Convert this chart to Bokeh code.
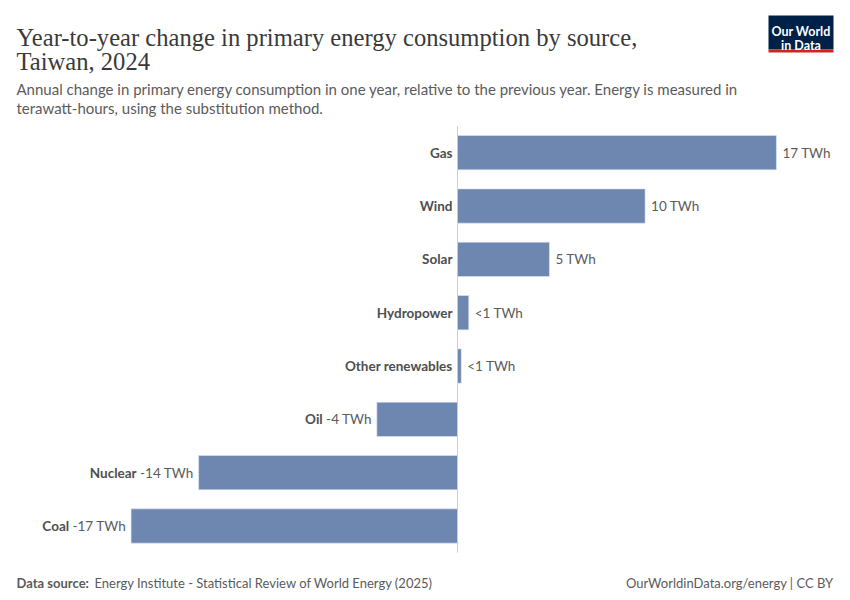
from bokeh.plotting import figure
from bokeh.models import Range1d, Label
from bokeh.embed import file_html
from bokeh.resources import INLINE

# ---- data ----
sources = ["Gas", "Wind", "Solar", "Hydropower", "Other renewables", "Oil", "Nuclear", "Coal"]
change_twh = [17.0, 10.0, 4.9, 0.6, 0.2, -4.3, -13.8, -17.4]
unit = "TWh"

title_lines = ["Year-to-year change in primary energy consumption by source,", "Taiwan, 2024"]
subtitle_lines = ["Annual change in primary energy consumption in one year, relative to the previous year. Energy is measured in",
                  "terawatt-hours, using the substitution method."]
source_label = "Data source:"
source_text = "Energy Institute - Statistical Review of World Energy (2025)"
footer_right = "OurWorldinData.org/energy | CC BY"

# ---- layout constants (pixels) ----
W, H = 842, 592
ZERO_PX = 457.0
PX_PER_TWH = 18.76
ROW0_PX = 152.2
ROW_PX = 53.33
BAR_FRAC = 0.643

BAR_COLOR = "#6D87B0"
LABEL_SIZE = 13.5


def xd(px):
    return (px - ZERO_PX) / PX_PER_TWH


def yd(py):
    return (py - ROW0_PX) / ROW_PX


# approximate Lato glyph widths in em
_W = {" ": 0.193, "T": 0.571, "W": 0.962, "h": 0.563, "-": 0.40, "<": 0.58}


def text_w(s, size):
    return sum(_W.get(c, 0.58) for c in s) * size


def fmt(v):
    if abs(v) < 1:
        return "<1 " + unit
    return f"{round(v):.0f} {unit}"


p = figure(width=W, height=H, output_backend="svg", toolbar_location=None,
           x_range=Range1d(xd(0), xd(W)), y_range=Range1d(yd(H), yd(0)),
           x_axis_location=None, y_axis_location=None, min_border=0)
p.outline_line_color = None
p.xgrid.visible = False
p.ygrid.visible = False
p.background_fill_color = "white"
p.border_fill_color = "white"

rows = list(range(len(sources)))

# zero line
p.segment(x0=[0], y0=[-0.5], x1=[0], y1=[len(sources) - 0.5], line_color="#cfcfcf", line_width=1)

# bars
p.hbar(y=rows, left=0, right=change_twh, height=BAR_FRAC, fill_color=BAR_COLOR,
       line_color="#dfe6f0", line_width=0.6)

# labels
for i, (name, v) in enumerate(zip(sources, change_twh)):
    lab = fmt(v)
    if v >= 0:
        p.add_layout(Label(x=v, y=i, x_offset=6, text=lab, text_align="left", text_baseline="middle",
                           text_font="Lato", text_font_size=f"{LABEL_SIZE}px", text_color="#5b5b5b"))
        p.add_layout(Label(x=0, y=i, x_offset=-5, text=name, text_align="right", text_baseline="middle",
                           text_font="Lato", text_font_style="bold", text_font_size=f"{LABEL_SIZE}px",
                           text_color="#4e4e4e"))
    else:
        p.add_layout(Label(x=v, y=i, x_offset=-5, text=lab, text_align="right", text_baseline="middle",
                           text_font="Lato", text_font_size=f"{LABEL_SIZE}px", text_color="#5b5b5b"))
        off = -5 - text_w(lab, LABEL_SIZE) - 5
        p.add_layout(Label(x=v, y=i, x_offset=off, text=name, text_align="right", text_baseline="middle",
                           text_font="Lato", text_font_style="bold", text_font_size=f"{LABEL_SIZE}px",
                           text_color="#4e4e4e"))

# title
for line, base in zip(title_lines, [37, 61]):
    p.add_layout(Label(x=xd(16), y=yd(base), text=line, text_align="left", text_baseline="alphabetic",
                       text_font="Liberation Serif", text_font_size="24.6px", text_color="#3a3a3a"))

# subtitle
for line, base in zip(subtitle_lines, [88, 107]):
    p.add_layout(Label(x=xd(16), y=yd(base), text=line, text_align="left", text_baseline="alphabetic",
                       text_font="Lato", text_font_size="15px", text_color="#5b5b5b"))

# footer
p.add_layout(Label(x=xd(16), y=yd(582), text=source_label, text_align="left", text_baseline="alphabetic",
                   text_font="Lato", text_font_style="bold", text_font_size="13px", text_color="#5b5b5b"))
p.add_layout(Label(x=xd(94), y=yd(582), text=source_text, text_align="left", text_baseline="alphabetic",
                   text_font="Lato", text_font_size="13px", text_color="#5b5b5b"))
p.add_layout(Label(x=xd(833), y=yd(582), text=footer_right, text_align="right", text_baseline="alphabetic",
                   text_font="Lato", text_font_size="13px", text_color="#5b5b5b"))

# logo
p.quad(left=[xd(768)], right=[xd(833)], top=[yd(15)], bottom=[yd(49)], fill_color="#002147", line_color=None)
p.quad(left=[xd(768)], right=[xd(833)], top=[yd(49)], bottom=[yd(52)], fill_color="#ce261e", line_color=None)
for line, base in zip(["Our World", "in Data"], [31, 45]):
    p.add_layout(Label(x=xd(800.5), y=yd(base), text=line, text_align="center", text_baseline="alphabetic",
                       text_font="Lato", text_font_style="bold", text_font_size="12.5px", text_color="white"))

open("out.html", "w").write(file_html(p, INLINE))
